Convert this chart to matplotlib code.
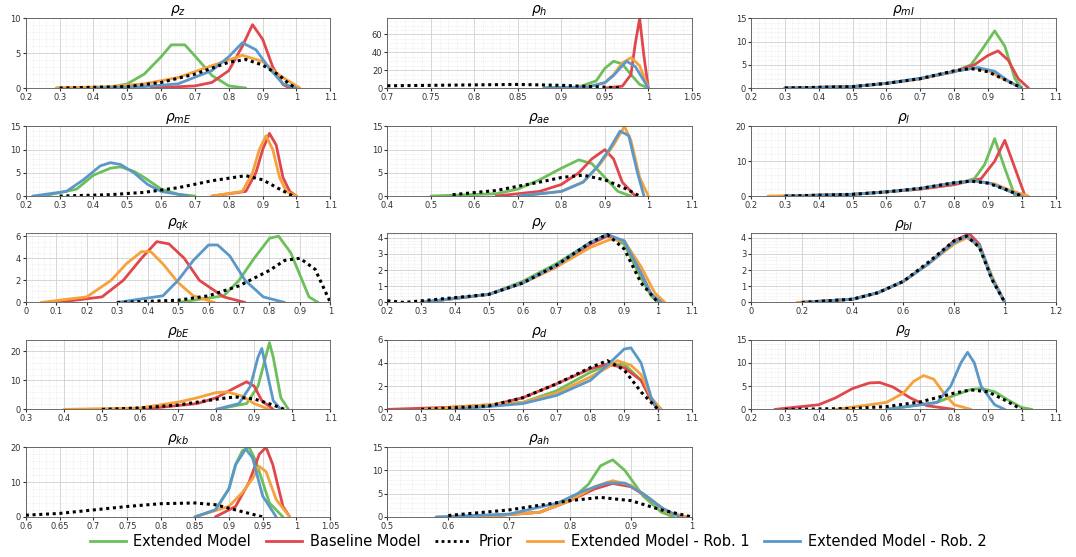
import numpy as np
import matplotlib.pyplot as plt
from matplotlib.lines import Line2D

COLORS = {'G': '#6cbf5a', 'R': '#e0474c', 'P': 'black', 'O': '#f7a13b', 'B': '#5b98c8'}
LABELS = ['Extended Model', 'Baseline Model', 'Prior', 'Extended Model - Rob. 1', 'Extended Model - Rob. 2']

# each curve: (x points, y points)
rho_z = {
    'G': ([0.29,0.45,0.5,0.55,0.6,0.63,0.67,0.7,0.75,0.8,0.85], [0,0.1,0.6,2,4.5,6.2,6.2,4.6,1.8,0.3,0]),
    'R': ([0.57,0.7,0.75,0.8,0.84,0.87,0.9,0.93,0.96,0.98], [0,0.3,0.8,2.5,6,9.1,7,3,0.5,0]),
    'P': ([0.3,0.5,0.6,0.7,0.8,0.85,0.9,0.95,0.98,1.0], [0,0.2,0.8,2,3.7,4.1,3.3,1.8,0.5,0]),
    'O': ([0.29,0.45,0.55,0.65,0.75,0.84,0.9,0.95,1.0,1.01], [0,0.2,0.6,1.5,3.2,4.7,3.8,1.8,0.3,0]),
    'B': ([0.41,0.55,0.65,0.75,0.8,0.84,0.88,0.92,0.96,1.0], [0,0.2,0.6,2.5,4.5,6.5,5.5,2.8,0.6,0]),
}
rho_h = {
    'G': ([0.88,0.92,0.94,0.95,0.96,0.97,0.98,0.99,1.0], [0,1,8,22,30,27,15,4,0]),
    'R': ([0.95,0.97,0.98,0.985,0.99,0.995,1.0], [0,2,15,50,78,35,0]),
    'P': ([0.7,0.75,0.8,0.85,0.9,0.95,0.97], [2.5,3,3.5,4,3,1,0]),
    'O': ([0.88,0.93,0.95,0.96,0.97,0.98,0.99,1.0], [0,1,6,15,28,34,25,0]),
    'B': ([0.88,0.93,0.95,0.96,0.97,0.975,0.985,0.995,1.0], [0,1,6,14,25,30,24,8,0]),
}
rho_mI = {
    'G': ([0.3,0.5,0.6,0.7,0.8,0.85,0.88,0.92,0.95,0.98,1.0], [0,0.3,1,2,3.5,5,8,12.3,9,2,0]),
    'R': ([0.3,0.5,0.6,0.7,0.8,0.86,0.9,0.93,0.96,0.99,1.02], [0,0.3,1,2,3.5,5,7,8,6,2,0]),
    'P': ([0.3,0.5,0.6,0.7,0.8,0.85,0.9,0.95,1.0], [0,0.3,1,2,3.7,4.2,3.5,1.8,0]),
    'O': ([0.3,0.5,0.6,0.7,0.8,0.86,0.9,0.95,1.0], [0,0.3,1,2,3.6,4.3,3.8,1.8,0]),
    'B': ([0.3,0.5,0.6,0.7,0.8,0.87,0.92,0.96,1.0], [0,0.3,1,2.1,3.6,4.4,3.6,1.5,0]),
}
rho_mE = {
    'G': ([0.25,0.35,0.4,0.45,0.48,0.52,0.55,0.6,0.65,0.7], [0,1.5,4.5,6,6.3,5.3,4,1.5,0.4,0]),
    'R': ([0.75,0.85,0.88,0.9,0.92,0.94,0.96,0.98,1.0], [0,1,5,10,13.5,11,4,1,0]),
    'P': ([0.3,0.45,0.55,0.65,0.75,0.85,0.9,0.95,0.99], [0,0.3,0.8,1.8,3.3,4.4,3.5,1.5,0]),
    'O': ([0.75,0.84,0.87,0.89,0.91,0.93,0.95,0.97,1.0], [0,1,5,10,13,10,4,1,0]),
    'B': ([0.22,0.32,0.37,0.42,0.45,0.48,0.52,0.56,0.6,0.68], [0,1,3.5,6.5,7.2,6.8,5,2.5,1,0]),
}
rho_ae = {
    'G': ([0.5,0.65,0.7,0.75,0.8,0.84,0.87,0.9,0.93,0.96], [0,0.5,1.5,3.5,6,7.8,7,4,1,0]),
    'R': ([0.65,0.75,0.8,0.84,0.87,0.9,0.92,0.94,0.97], [0,1,2.5,5,8,10,8,3,0]),
    'P': ([0.55,0.65,0.75,0.8,0.85,0.9,0.95,0.98], [0.3,1.2,3,4,4.5,3.5,1.5,0]),
    'O': ([0.7,0.8,0.85,0.89,0.92,0.945,0.96,0.98,1.0], [0,1,3,7,11,15,12,4,0]),
    'B': ([0.7,0.8,0.85,0.88,0.91,0.935,0.955,0.975,0.99], [0,1,3,6,10,14,13,5,0]),
}
rho_l = {
    'G': ([0.3,0.5,0.6,0.7,0.8,0.86,0.89,0.92,0.95,0.98], [0,0.5,1.2,2,3.3,5,9,16.5,8,0]),
    'R': ([0.3,0.5,0.6,0.7,0.8,0.88,0.92,0.95,0.98,1.01], [0,0.5,1.2,2,3.3,5,10,16,8,0]),
    'P': ([0.3,0.5,0.6,0.7,0.8,0.85,0.9,0.95,1.0], [0,0.5,1.2,2.2,3.8,4.3,3.7,2,0]),
    'O': ([0.25,0.5,0.6,0.7,0.8,0.86,0.92,0.97,1.02], [0,0.5,1.2,2.2,3.8,4.4,3.5,1.5,0]),
    'B': ([0.3,0.5,0.6,0.7,0.8,0.86,0.91,0.96,1.0], [0,0.5,1.2,2.2,3.8,4.4,3.6,1.5,0]),
}
rho_qk = {
    'G': ([0.5,0.65,0.7,0.75,0.8,0.83,0.87,0.9,0.93,0.96], [0,0.6,2,4,5.8,6,4.5,2.5,0.5,0]),
    'R': ([0.1,0.25,0.32,0.38,0.43,0.47,0.52,0.57,0.65,0.72], [0,0.5,2,4,5.5,5.3,4,2,0.5,0]),
    'P': ([0.3,0.5,0.6,0.7,0.8,0.85,0.9,0.95,1.0], [0,0.2,0.6,1.5,2.9,3.8,4,3,0]),
    'O': ([0.05,0.2,0.28,0.33,0.38,0.41,0.45,0.5,0.55,0.62], [0,0.5,2,3.5,4.6,4.6,3.5,1.8,0.6,0]),
    'B': ([0.3,0.45,0.5,0.55,0.6,0.63,0.67,0.72,0.78,0.85], [0,0.6,2,3.8,5.2,5.2,4.2,2,0.5,0]),
}
rho_y = {
    'G': ([0.3,0.5,0.6,0.7,0.8,0.85,0.9,0.95,0.98,1.0], [0,0.5,1.3,2.4,3.7,4.2,3.6,1.5,0.4,0]),
    'R': ([0.3,0.5,0.6,0.7,0.8,0.85,0.9,0.95,0.98,1.01], [0,0.5,1.2,2.2,3.6,4.1,3.8,1.8,0.5,0]),
    'P': ([0.2,0.25,0.5,0.6,0.7,0.8,0.85,0.9,0.95,1.0], [0.1,0,0.5,1.2,2.3,3.7,4.2,3.3,1.2,0]),
    'O': ([0.3,0.5,0.6,0.7,0.8,0.86,0.9,0.95,0.99,1.02], [0,0.5,1.2,2.2,3.4,3.9,3.8,2.2,0.6,0]),
    'B': ([0.3,0.5,0.6,0.7,0.8,0.85,0.9,0.95,0.98,1.01], [0,0.5,1.2,2.3,3.7,4.2,3.8,1.8,0.5,0]),
}
rho_bI = {
    'G': ([0.2,0.4,0.5,0.6,0.7,0.8,0.85,0.9,0.95,1.0], [0,0.2,0.6,1.3,2.4,3.8,4.1,3.4,1.4,0]),
    'R': ([0.2,0.4,0.5,0.6,0.7,0.8,0.86,0.9,0.95,1.0], [0,0.2,0.6,1.3,2.4,3.8,4.25,3.6,1.5,0]),
    'P': ([0.2,0.4,0.5,0.6,0.7,0.8,0.85,0.9,0.95,1.0], [0,0.2,0.6,1.3,2.5,3.8,4.1,3.4,1.4,0]),
    'O': ([0.18,0.4,0.5,0.6,0.7,0.8,0.85,0.9,0.95,1.0], [0,0.2,0.6,1.3,2.4,3.6,4.0,3.5,1.6,0]),
    'B': ([0.2,0.4,0.5,0.6,0.7,0.8,0.85,0.9,0.95,1.0], [0,0.2,0.6,1.3,2.4,3.7,4.1,3.5,1.5,0]),
}
rho_bE = {
    'G': ([0.8,0.88,0.91,0.93,0.94,0.95,0.97,0.99], [0,2,8,18,23,18,4,0]),
    'R': ([0.6,0.75,0.8,0.85,0.88,0.9,0.92,0.95], [0,2,4,7.5,9.5,8,3,0]),
    'P': ([0.5,0.6,0.7,0.8,0.85,0.9,0.95,0.98], [0,0.5,1.5,3.5,4.3,3.6,1.5,0]),
    'O': ([0.4,0.6,0.7,0.75,0.8,0.83,0.87,0.9,0.94], [0,0.5,2.5,4,5.8,6,4.5,2,0]),
    'B': ([0.8,0.86,0.89,0.91,0.92,0.93,0.95,0.97], [0,2,8,18,21,15,3,0]),
}
rho_d = {
    'G': ([0.3,0.6,0.7,0.8,0.85,0.9,0.95,0.98,1.0], [0,0.6,1.6,3.2,3.8,3.9,2.5,0.8,0]),
    'R': ([0.2,0.5,0.6,0.7,0.8,0.85,0.9,0.95,0.98,1.0], [0,0.3,1,2.2,3.5,3.9,3.6,2.5,0.8,0]),
    'P': ([0.3,0.5,0.6,0.7,0.8,0.85,0.9,0.95,1.0], [0,0.3,1,2.2,3.6,4.2,3.4,1.5,0]),
    'O': ([0.3,0.6,0.7,0.8,0.85,0.88,0.92,0.95,0.98,1.01], [0,0.6,1.4,2.8,3.6,4.2,3.8,3,1,0]),
    'B': ([0.4,0.6,0.7,0.8,0.85,0.9,0.92,0.95,0.98,1.0], [0,0.5,1.2,2.5,3.8,5.2,5.3,4,1,0]),
}
rho_g = {
    'G': ([0.6,0.75,0.8,0.85,0.88,0.92,0.96,1.0,1.03], [0,1.5,3,4.3,4.5,3.8,2,0.4,0]),
    'R': ([0.27,0.4,0.45,0.5,0.55,0.58,0.62,0.67,0.72,0.8], [0,1,2.5,4.5,5.7,5.8,4.8,2.5,0.8,0]),
    'P': ([0.3,0.5,0.6,0.7,0.8,0.85,0.9,0.95,1.0], [0,0.2,0.6,1.6,3.5,4.2,3.8,2,0]),
    'O': ([0.45,0.6,0.65,0.68,0.71,0.74,0.77,0.8,0.85], [0,1.5,3.5,6,7.3,6.5,3.5,1,0]),
    'B': ([0.6,0.75,0.79,0.82,0.84,0.86,0.88,0.92,0.95], [0,1.5,5,10,12.3,10,5,1,0]),
}
rho_kb = {
    'G': ([0.85,0.88,0.9,0.91,0.92,0.93,0.94,0.96,0.98], [0,2,8,15,19,20,16,4,0]),
    'R': ([0.88,0.91,0.93,0.945,0.955,0.965,0.98,0.99], [0,3,10,18,20,15,3,0]),
    'P': ([0.6,0.65,0.7,0.75,0.8,0.85,0.88,0.9,0.93,0.95], [0.5,1,2,3,3.8,4,3.5,2.5,1,0]),
    'O': ([0.85,0.9,0.92,0.935,0.945,0.955,0.97,0.99], [0,3,7,11,14.5,13,5,0]),
    'B': ([0.85,0.88,0.9,0.91,0.925,0.935,0.95,0.97], [0,2,8,15,19.5,17,6,0]),
}
rho_ah = {
    'G': ([0.65,0.75,0.8,0.83,0.85,0.87,0.89,0.92,0.95,0.97], [0,1,3.5,7,11,12.3,10,4.5,1,0]),
    'R': ([0.65,0.75,0.8,0.84,0.87,0.9,0.93,0.96,0.99], [0,1,3.5,6,7.2,6.5,4,1,0]),
    'P': ([0.6,0.7,0.8,0.85,0.9,0.95,1.0], [0.3,1.5,3.5,4.2,3.5,1.5,0]),
    'O': ([0.65,0.75,0.8,0.84,0.87,0.9,0.93,0.96,0.99], [0,1,3.5,6.5,7.8,6.8,4,1,0]),
    'B': ([0.58,0.7,0.78,0.82,0.86,0.89,0.92,0.95,0.98], [0,0.6,3,5.5,7.3,7.3,5,2,0]),
}

# (title, data, xlim, xstep, ylim, ystep)
panels = [
    (r'$\rho_z$', rho_z, (0.2, 1.1), 0.1, (0, 10), 5),
    (r'$\rho_h$', rho_h, (0.7, 1.05), 0.05, (0, 78), 20),
    (r'$\rho_{mI}$', rho_mI, (0.2, 1.1), 0.1, (0, 15), 5),
    (r'$\rho_{mE}$', rho_mE, (0.2, 1.1), 0.1, (0, 15), 5),
    (r'$\rho_{ae}$', rho_ae, (0.4, 1.1), 0.1, (0, 15), 5),
    (r'$\rho_l$', rho_l, (0.2, 1.1), 0.1, (0, 20), 10),
    (r'$\rho_{qk}$', rho_qk, (0, 1), 0.1, (0, 6.3), 2),
    (r'$\rho_y$', rho_y, (0.2, 1.1), 0.1, (0, 4.3), 1),
    (r'$\rho_{bI}$', rho_bI, (0, 1.2), 0.2, (0, 4.3), 1),
    (r'$\rho_{bE}$', rho_bE, (0.3, 1.1), 0.1, (0, 24), 10),
    (r'$\rho_d$', rho_d, (0.2, 1.1), 0.1, (0, 6), 2),
    (r'$\rho_g$', rho_g, (0.2, 1.1), 0.1, (0, 15), 5),
    (r'$\rho_{kb}$', rho_kb, (0.6, 1.05), 0.05, (0, 20), 10),
    (r'$\rho_{ah}$', rho_ah, (0.5, 1.0), 0.1, (0, 15), 5),
]

def fmt(v):
    return ('%.2f' % v).rstrip('0').rstrip('.')

fig = plt.figure(figsize=(10.76, 5.57), dpi=100)
lefts = [0.024, 0.36, 0.698]
w = 0.283
bottoms = [0.842, 0.648, 0.457, 0.265, 0.072]
h = 0.125
for i, (title, data, xl, xs, yl, ys) in enumerate(panels):
    r, c = divmod(i, 3)
    ax = fig.add_axes([lefts[c], bottoms[r], w, h])
    for k in ['G', 'R', 'P', 'O', 'B']:
        x, y = data[k]
        if k == 'P':
            ax.plot(x, y, color='black', lw=2.2, ls=(0, (1, 1.2)), zorder=5)
        else:
            ax.plot(x, y, color=COLORS[k], lw=2, solid_capstyle='round')
    ax.set_xlim(xl)
    ax.set_ylim(yl)
    xt = np.round(np.arange(xl[0], xl[1] + 1e-9, xs), 3)
    ax.set_xticks(xt)
    ax.set_xticklabels([fmt(v) for v in xt])
    yt = np.arange(0, yl[1] + 1e-9, ys)
    ax.set_yticks(yt)
    ax.set_yticklabels([fmt(v) for v in yt])
    ax.minorticks_on()
    ax.grid(True, which='major', color='#d0d0d0', lw=0.6)
    ax.grid(True, which='minor', color='#e4e4e4', lw=0.5, ls=':')
    ax.tick_params(labelsize=6, colors='#333333', length=2, pad=1.5)
    ax.tick_params(which='minor', length=0)
    for s in ax.spines.values():
        s.set_color('#555555')
        s.set_linewidth(0.6)
    ax.set_title(title, fontsize=10, pad=2)

handles = [Line2D([], [], color=COLORS[k], lw=2, ls=(0, (1, 1.2)) if k == 'P' else '-')
           for k in ['G', 'R', 'P', 'O', 'B']]
fig.legend(handles, LABELS, loc='lower center', ncol=5, frameon=False, fontsize=10.5,
           bbox_to_anchor=(0.5, -0.01), handlelength=2.5, columnspacing=1.0, handletextpad=0.5)
fig.savefig('out.png', dpi=100)
